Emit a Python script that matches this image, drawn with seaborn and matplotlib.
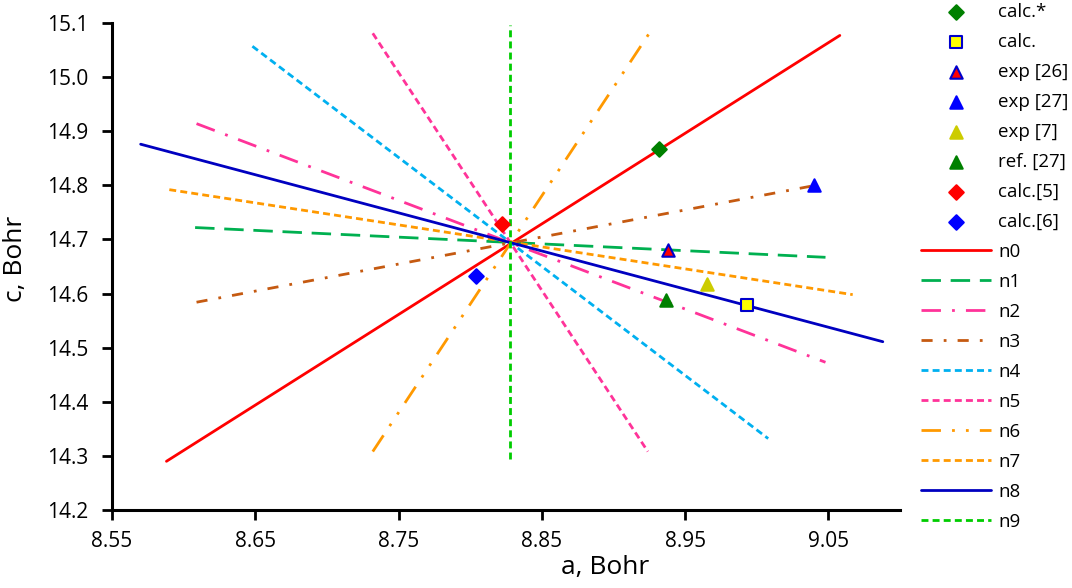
import matplotlib
matplotlib.use("Agg")
import matplotlib.pyplot as plt
import seaborn as sns
import pandas as pd

# ---------------- data ----------------
line_names = ["n0", "n1", "n2", "n3", "n4", "n5", "n6", "n7", "n8", "n9"]
line_a = [
    [8.588, 9.058],
    [8.608, 9.048],
    [8.609, 9.048],
    [8.609, 9.045],
    [8.648, 9.008],
    [8.732, 8.924],
    [8.732, 8.925],
    [8.590, 9.067],
    [8.570, 9.088],
    [8.828, 8.828],
]
line_c = [
    [14.290, 15.077],
    [14.722, 14.667],
    [14.914, 14.473],
    [14.584, 14.802],
    [15.057, 14.332],
    [15.081, 14.308],
    [14.308, 15.081],
    [14.792, 14.598],
    [14.876, 14.511],
    [14.294, 15.097],
]

point_names = ["calc.*", "calc.", "exp [26]", "exp [27]", "exp [7]", "ref. [27]", "calc.[5]", "calc.[6]"]
point_a = [8.932, 8.993, 8.938, 9.040, 8.965, 8.937, 8.822, 8.804]
point_c = [14.868, 14.578, 14.680, 14.800, 14.617, 14.589, 14.728, 14.633]

x_ticks = [8.55, 8.65, 8.75, 8.85, 8.95, 9.05]
y_ticks = [14.2, 14.3, 14.4, 14.5, 14.6, 14.7, 14.8, 14.9, 15.0, 15.1]

# ---------------- styles ----------------
line_styles = {
    "n0": dict(color="#FF0000", ls="-"),
    "n1": dict(color="#00B050", ls=(0, (7, 3.5))),
    "n2": dict(color="#FF3399", ls=(0, (7, 4, 1, 4))),
    "n3": dict(color="#C55A11", ls=(0, (4, 4, 1, 4))),
    "n4": dict(color="#00B0F0", ls=(0, (2.5, 1.5))),
    "n5": dict(color="#FF3399", ls=(0, (2.5, 1.5))),
    "n6": dict(color="#FF9900", ls=(0, (7, 4, 1, 4, 1, 4))),
    "n7": dict(color="#FF9900", ls=(0, (2.5, 1.5))),
    "n8": dict(color="#0000C0", ls="-"),
    "n9": dict(color="#00CC00", ls=(0, (2.5, 1.5))),
}
point_styles = {
    "calc.*": dict(marker="D", color="#008000", ec="#008000", s=55),
    "calc.": dict(marker="s", color="#FFFF00", ec="#0000CC", s=80),
    "exp [26]": dict(marker="^", color="#FF0000", ec="#0000CC", s=80),
    "exp [27]": dict(marker="^", color="#0000FF", ec="#0000FF", s=80),
    "exp [7]": dict(marker="^", color="#CCCC00", ec="#CCCC00", s=80),
    "ref. [27]": dict(marker="^", color="#008000", ec="#008000", s=80),
    "calc.[5]": dict(marker="D", color="#FF0000", ec="#FF0000", s=55),
    "calc.[6]": dict(marker="D", color="#0000FF", ec="#0000FF", s=55),
}

sns.set_style("white")
plt.rcParams["font.family"] = ["Open Sans", "DejaVu Sans"]
plt.rcParams["text.color"] = "black"
plt.rcParams["axes.labelcolor"] = "black"

fig = plt.figure(figsize=(10.72, 5.88), dpi=100)
ax = fig.add_axes([112 / 1072, 1 - 510 / 588, 788 / 1072, 487 / 588])

for name, xs, ys in zip(line_names, line_a, line_c):
    df = pd.DataFrame({"a": xs, "c": ys})
    st = line_styles[name]
    sns.lineplot(data=df, x="a", y="c", ax=ax, sort=False, color=st["color"],
                 linestyle=st["ls"], linewidth=2, label=name, estimator=None)

for name, xv, yv in zip(point_names, point_a, point_c):
    st = point_styles[name]
    sns.scatterplot(x=[xv], y=[yv], ax=ax, marker=st["marker"], color=st["color"],
                    edgecolor=st["ec"], linewidth=1.5, s=st["s"], label=name, zorder=5)

ax.set_xlim(8.55, 9.10)
ax.set_ylim(14.2, 15.1)
ax.set_xticks(x_ticks)
ax.set_xticklabels([f"{v:.2f}" for v in x_ticks])
ax.set_yticks(y_ticks)
ax.set_yticklabels([f"{v:.1f}" for v in y_ticks])

for s in ["top", "right"]:
    ax.spines[s].set_visible(False)
for s in ["left", "bottom"]:
    ax.spines[s].set_linewidth(2.2)
    ax.spines[s].set_color("black")
ax.tick_params(axis="both", which="major", direction="out", length=7, width=2,
               labelsize=15, color="black", labelcolor="black",
               bottom=True, left=True)
ax.tick_params(axis="y", pad=10)
ax.tick_params(axis="x", pad=8)

ax.set_xlabel("a, Bohr", fontsize=19)
ax.set_ylabel("c, Bohr", fontsize=19)
ax.xaxis.set_label_coords(0.626, -0.092)
ax.yaxis.set_label_coords(-0.106, 0.515)

handles, labels = ax.get_legend_handles_labels()
lookup = dict(zip(labels, handles))
order = point_names + line_names
ax.get_legend().remove()
fig.legend([lookup[k] for k in order], order, loc="upper left",
           bbox_to_anchor=(921 / 1072, 1 - 3 / 588), frameon=False,
           fontsize=13.5, handlelength=3.73, handletextpad=0.4,
           labelspacing=0.64, borderpad=0, borderaxespad=0)

fig.savefig("out.png", dpi=100)
